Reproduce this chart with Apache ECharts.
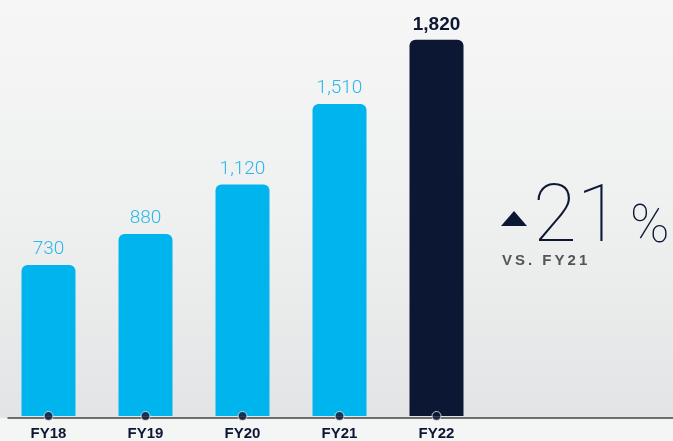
<!DOCTYPE html>
<html>
<head>
<meta charset="utf-8">
<script src="https://cdn.jsdelivr.net/npm/echarts@6/dist/echarts.min.js"></script>
<style>
  html, body { margin: 0; padding: 0; background: #f4f5f5; }
  #chart { width: 673px; height: 441px; }
</style>
</head>
<body>
<div id="chart"></div>
<script>
// Revenue by fiscal year
const years = ['FY18', 'FY19', 'FY20', 'FY21', 'FY22'];
const revenue = [730, 880, 1120, 1510, 1820];
const growthPct = '21';
const growthNote = 'VS. FY21';

const CYAN = '#00b5ee';
const CYAN_TEXT = '#2bb7ea';
const NAVY = '#0c1733';

// spread the caption's letters apart with thin spaces
const spaced = s => s.split('').join('\u2009');

const barData = revenue.map((v, i) => {
  const last = i === revenue.length - 1;
  return {
    value: v,
    itemStyle: { color: last ? NAVY : CYAN },
    label: last
      ? { color: NAVY, fontWeight: 'bold', fontFamily: 'Liberation Sans', fontSize: 19 }
      : { color: CYAN_TEXT, fontWeight: 300, fontFamily: 'Roboto', fontSize: 19 }
  };
});

const chart = echarts.init(document.getElementById('chart'), null, { renderer: 'canvas' });
chart.setOption({
  backgroundColor: '#f4f5f5',
  animation: false,
  grid: [
    { left: 0, right: 188, top: 2.6, bottom: 23 },
    { left: 8, right: 0, top: 2.6, bottom: 23 }
  ],
  xAxis: [
    {
      type: 'category',
      gridIndex: 0,
      data: years,
      axisLine: { show: false },
      axisTick: { show: false },
      axisLabel: {
        color: NAVY, fontWeight: 'bold', fontFamily: 'Liberation Sans',
        fontSize: 15, margin: 10
      }
    },
    {
      type: 'value',
      gridIndex: 1,
      min: 0, max: 1,
      axisLine: { show: true, lineStyle: { color: '#444', width: 1.5 } },
      axisTick: { show: false },
      axisLabel: { show: false },
      splitLine: { show: false }
    }
  ],
  yAxis: [
    { type: 'value', gridIndex: 0, min: 0, max: 2000, show: false },
    { type: 'value', gridIndex: 1, min: 0, max: 1, show: false }
  ],
  graphic: [
    {
      type: 'rect', z: -100, silent: true,
      shape: { x: 0, y: 0, width: 673, height: 418 },
      style: {
        fill: new echarts.graphic.LinearGradient(0, 0, 0, 1, [
          { offset: 0, color: '#f6f6f6' },
          { offset: 0.5, color: '#eff0f0' },
          { offset: 1, color: '#e3e4e5' }
        ])
      }
    },
    {
      type: 'polygon', z: 10,
      shape: { points: [[501, 226], [514, 211], [527, 226]] },
      style: { fill: NAVY }
    },
    {
      type: 'text', z: 10, left: 533, top: 181,
      style: {
        text: growthPct, fill: NAVY, fontFamily: 'Roboto', fontWeight: 100,
        fontSize: 80
      }
    },
    {
      type: 'text', z: 10, left: 630, top: 202,
      style: {
        text: '%', fill: NAVY, fontFamily: 'Roboto', fontWeight: 100,
        fontSize: 53
      }
    },
    {
      type: 'text', z: 10, left: 502, top: 253,
      style: {
        text: spaced(growthNote), fill: '#555555', fontFamily: 'Liberation Sans',
        fontWeight: 'bold', fontSize: 15
      }
    }
  ],
  series: [
    {
      type: 'bar',
      xAxisIndex: 0, yAxisIndex: 0,
      data: barData,
      barWidth: 54,
      itemStyle: { borderRadius: [6, 6, 0, 0] },
      label: {
        show: true, position: 'top', distance: 6,
        formatter: p => p.value.toLocaleString('en-US')
      }
    },
    {
      type: 'scatter',
      xAxisIndex: 0, yAxisIndex: 0,
      data: revenue.map(() => 0),
      symbol: 'circle', symbolSize: 9,
      clip: false, z: 5,
      itemStyle: { color: NAVY, borderColor: '#eef0f2', borderWidth: 1 }
    }
  ]
});
</script>
</body>
</html>
